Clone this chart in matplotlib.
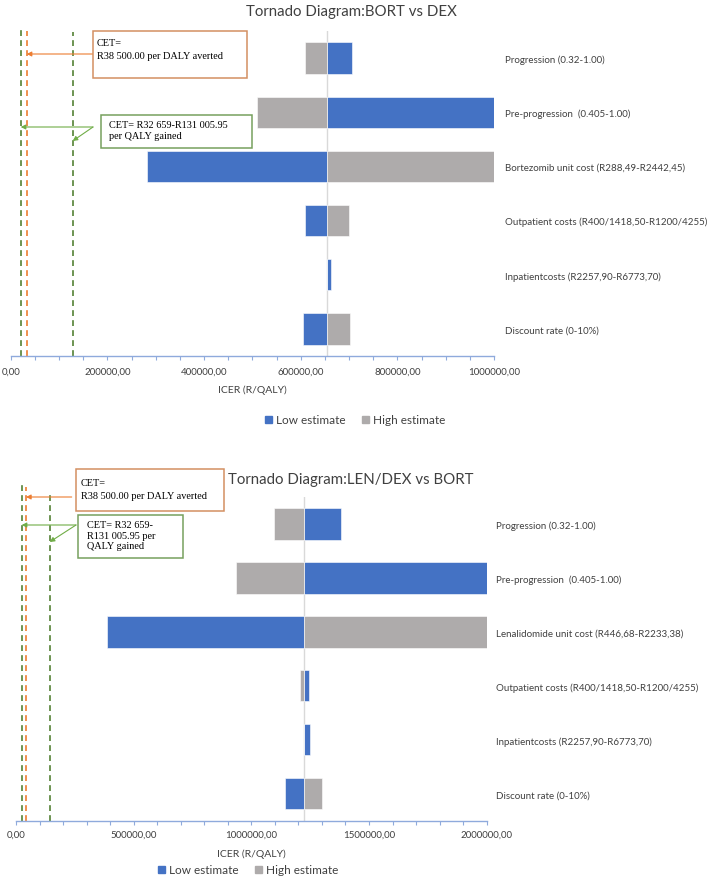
import matplotlib
matplotlib.use("Agg")
import matplotlib.pyplot as plt
from matplotlib.patches import Rectangle, Patch
from matplotlib.ticker import MultipleLocator, FuncFormatter

plt.rcParams['font.family'] = ['Lato', 'DejaVu Sans']

# ---- data ----
params_top = ["Progression (0.32-1.00)",
              "Pre-progression  (0.405-1.00)",
              "Bortezomib unit cost (R288,49-R2442,45)",
              "Outpatient costs (R400/1418,50-R1200/4255)",
              "Inpatientcosts (R2257,90-R6773,70)",
              "Discount rate (0-10%)"]
base_top = 654000
low_top = [707000, 1000000, 283000, 608000, 662000, 604000]
high_top = [608000, 510000, 1000000, 700000, 654000, 702000]
cet_top = [20700, 33100, 128200]

params_bot = ["Progression (0.32-1.00)",
              "Pre-progression  (0.405-1.00)",
              "Lenalidomide unit cost (R446,68-R2233,38)",
              "Outpatient costs (R400/1418,50-R1200/4255)",
              "Inpatientcosts (R2257,90-R6773,70)",
              "Discount rate (0-10%)"]
base_bot = 1222000
low_bot = [1382000, 2000000, 385000, 1243000, 1250000, 1145000]
high_bot = [1097000, 934000, 2000000, 1205000, 1222000, 1299000]
cet_bot = [24200, 42500, 143200]

cet_colors = ['#548235', '#ED7D31', '#548235']
BLUE = '#4472C4'
GREY = '#AEABAB'
AXIS = '#8FAADC'
TXT = '#404040'

W, H = 708, 879


def fx(px):
    return px / W


def fy(py):
    return 1 - py / H


fig = plt.figure(figsize=(W / 100, H / 100), dpi=100)


def tornado(ax, params, base, low, high, xmax, minor, major, cet, cet_top_ext, title, title_y, lab_pad):
    y = list(range(len(params)))
    ax.barh(y, [v - base for v in low], left=base, height=0.58, color=BLUE, edgecolor='white', lw=0.4)
    ax.barh(y, [v - base for v in high], left=base, height=0.58, color=GREY, edgecolor='white', lw=0.4)
    ax.axvline(base, color='#D9D9D9', lw=1, zorder=0)
    for v, c, e in zip(cet, cet_colors, cet_top_ext):
        ax.axvline(v, ymin=0, ymax=e, color=c, lw=1.2, ls=(0, (3.5, 2.5)), clip_on=False)
    ax.set_xlim(0, xmax)
    ax.set_ylim(len(params) - 0.5, -0.5)
    for s in ['left', 'top', 'right']:
        ax.spines[s].set_visible(False)
    ax.spines['bottom'].set_color(AXIS)
    ax.spines['bottom'].set_linewidth(1)
    ax.xaxis.set_major_locator(MultipleLocator(major))
    ax.xaxis.set_minor_locator(MultipleLocator(minor))
    ax.xaxis.set_major_formatter(FuncFormatter(lambda v, p: '%d,00' % v))
    ax.tick_params(axis='x', which='both', length=3, color=AXIS, width=0.8,
                   labelsize=7, labelcolor=TXT, pad=lab_pad)
    ax.set_yticks(y, params)
    ax.yaxis.tick_right()
    ax.tick_params(axis='y', length=0, labelsize=7, labelcolor=TXT, pad=8)
    ax.set_xlabel('ICER (R/QALY)', fontsize=7.5, color=TXT, labelpad=6)
    fig.text(fx(351), fy(title_y), title, ha='center', va='center', fontsize=10.8, color=TXT)


ax1 = fig.add_axes([fx(10.7), fy(357), (494 - 10.7) / W, 325 / H])
tornado(ax1, params_top, base_top, low_top, high_top, 1000000, 50000, 200000,
        cet_top, [1.01, 1.0, 0.997], 'Tornado Diagram:BORT vs DEX', 12, 5)

ax2 = fig.add_axes([fx(16), fy(821.7), (486.7 - 16) / W, (821.7 - 498) / H])
tornado(ax2, params_bot, base_bot, low_bot, high_bot, 2000000, 100000, 500000,
        cet_bot, [1.046, 1.031, 1.019], 'Tornado Diagram:LEN/DEX vs BORT', 480, 3.5)
ax2.tick_params(axis='y', pad=7)
ax2.xaxis.labelpad = 7


def box(x0, y0, x1, y1, color):
    fig.patches.append(Rectangle((fx(x0), fy(y1)), (x1 - x0) / W, (y1 - y0) / H,
                                 transform=fig.transFigure, fill=True, facecolor='white',
                                 edgecolor=color, lw=1.1, zorder=5))


def lines(x, ys, texts):
    for yy, t in zip(ys, texts):
        fig.text(fx(x), fy(yy), t, family=['Liberation Serif', 'DejaVu Serif'], fontsize=7.4,
                 va='center', ha='left', zorder=6)


def arrow(ax, start, tip_val, tip_y, color):
    ax.annotate('', xy=(tip_val, fy(tip_y)), xycoords=(ax.transData, 'figure fraction'),
                xytext=(fx(start[0]), fy(start[1])), textcoords='figure fraction',
                arrowprops=dict(arrowstyle='-|>', color=color, lw=0.8, mutation_scale=7,
                                shrinkA=0, shrinkB=0), annotation_clip=False)


ORANGE_BOX = '#D39062'
GREEN_BOX = '#76A05E'

# top chart annotations
box(92.7, 32, 247.3, 79, ORANGE_BOX)
lines(97, [44, 56.5], ['CET=', 'R38 500.00 per DALY averted'])
arrow(ax1, (92.7, 55), cet_top[1], 55, '#ED7D31')
box(100.7, 116.3, 251.7, 149, GREEN_BOX)
lines(109, [126, 137], ['CET= R32 659-R131 005.95', 'per QALY gained'])
arrow(ax1, (93, 128), cet_top[0], 128, '#70AD47')
arrow(ax1, (93, 128), cet_top[2], 142, '#70AD47')

# bottom chart annotations
box(76, 470, 224.3, 512, ORANGE_BOX)
lines(80.7, [483.5, 496.5], ['CET=', 'R38 500.00 per DALY averted'])
arrow(ax2, (71.7, 498), cet_bot[1], 498, '#ED7D31')
box(78.3, 516, 183.3, 559, GREEN_BOX)
lines(87.3, [526, 536.5, 546.5], ['CET= R32 659-', 'R131 005.95 per', 'QALY gained'])
arrow(ax2, (76, 526), cet_bot[0], 526, '#70AD47')
arrow(ax2, (76, 526), cet_bot[2], 543, '#70AD47')

# legends
handles = [Patch(color=BLUE, label='Low estimate'), Patch(color=GREY, label='High estimate')]
for cx, cy in [(355, 421), (248, 871)]:
    fig.legend(handles=handles, loc='center', bbox_to_anchor=(fx(cx), fy(cy)), ncol=2,
               frameon=False, fontsize=8.5, handlelength=0.6, handleheight=0.6,
               handletextpad=0.3, columnspacing=1.4, labelcolor=TXT)

fig.savefig('out.png', dpi=100)
